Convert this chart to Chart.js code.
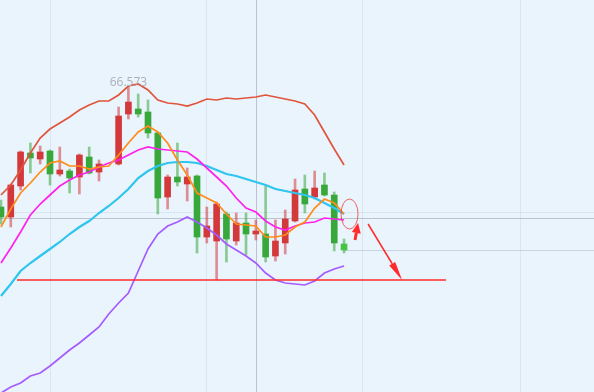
<!DOCTYPE html>
<html>
<head>
<meta charset="utf-8">
<script src="https://cdn.jsdelivr.net/npm/chart.js@4.4.1/dist/chart.umd.min.js"></script>
<style>
  html, body { margin: 0; padding: 0; background: #eaf4fd; }
  #wrap { width: 594px; height: 392px; }
</style>
</head>
<body>
<div id="wrap"><canvas id="klineChart" width="594" height="392"></canvas></div>
<script>
// daily candles, null = no bar for that slot
var opens  = [64.173, 63.973, 64.593, 65.253, 65.133, 65.293, 64.833, 64.893, 64.773, 65.173, 64.873, null,
              65.033, 66.033, 66.133, 66.073, 65.653, 64.373, 64.773, 64.633, 64.793, 63.573, 63.493, 64.033,
              63.493, 63.853, 63.633, 63.633, 63.193, 63.453, 63.893, 64.533, 64.373, 64.613, 64.413, 63.433];
var highs  = [64.313, 64.633, 65.293, 65.453, 65.393, 65.313, 65.373, 64.933, 65.233, 65.373, 65.113, null,
              66.173, 66.573, 66.433, 66.313, 65.673, 64.813, 65.453, 64.953, 64.813, 64.173, 64.273, 64.073,
              64.053, 64.053, 63.913, 64.593, 63.913, 64.113, 64.733, 64.813, 64.893, 64.853, 64.473, 63.533];
var lows   = [63.833, 63.773, 64.513, 64.853, 65.033, 64.613, 64.793, 64.453, 64.433, 64.833, 64.693, null,
              65.013, 65.933, 65.973, 65.553, 64.033, 64.133, 64.593, 64.293, 63.253, 63.453, 62.713, 63.073,
              63.413, 63.213, 63.513, 63.073, 63.093, 63.233, 63.873, 64.053, 64.333, 64.393, 63.293, 63.253];
var closes = [63.973, 64.613, 65.273, 65.153, 65.273, 64.833, 64.913, 64.753, 65.213, 64.853, 65.033, null,
              65.993, 66.273, 66.033, 65.653, 64.353, 64.773, 64.673, 64.773, 63.573, 63.793, 64.233, 63.533,
              63.853, 63.633, 63.693, 63.173, 63.493, 63.933, 64.513, 64.233, 64.553, 64.413, 63.453, 63.313];

var bollUpper = [64.413, 64.613, 64.913, 65.253, 65.553, 65.733, 65.853, 65.973, 66.113, 66.213, 66.293, 66.293,
                 66.413, 66.593, 66.633, 66.513, 66.313, 66.253, 66.233, 66.193, 66.253, 66.333, 66.313, 66.353,
                 66.333, 66.353, 66.373, 66.413, 66.373, 66.333, 66.293, 66.233, 66.013, 65.673, 65.333, 65.013];
var ma5   = [63.773, 64.133, 64.453, 64.653, 64.873, 65.053, 65.093, 64.993, 64.993, 64.933, 64.973, 64.993,
             65.213, 65.453, 65.673, 65.793, 65.673, 65.453, 65.113, 64.813, 64.453, 64.353, 64.253, 64.033,
             63.833, 63.813, 63.793, 63.573, 63.573, 63.613, 63.773, 63.873, 64.153, 64.333, 64.253, 64.033];
var ma10  = [63.053, 63.353, 63.673, 64.013, 64.233, 64.413, 64.593, 64.713, 64.813, 64.873, 64.973, 65.053,
             65.113, 65.213, 65.313, 65.373, 65.333, 65.313, 65.293, 65.273, 65.133, 64.953, 64.773, 64.593,
             64.353, 64.153, 64.073, 63.893, 63.773, 63.713, 63.793, 63.853, 63.873, 63.953, 63.933, 63.913];
var ma20  = [62.393, 62.633, 62.893, 63.053, 63.193, 63.333, 63.473, 63.633, 63.773, 63.893, 64.053, 64.193,
             64.353, 64.533, 64.753, 64.893, 64.993, 65.053, 65.073, 65.073, 65.053, 64.993, 64.913, 64.833,
             64.793, 64.733, 64.673, 64.613, 64.533, 64.493, 64.453, 64.413, 64.353, 64.253, 64.153, 64.033];
var bollLower = [60.453, 60.573, 60.653, 60.793, 60.853, 60.993, 61.153, 61.313, 61.453, 61.613, 61.773, 62.033,
                 62.253, 62.453, 62.893, 63.333, 63.633, 63.793, 63.873, 63.973, 63.873, 63.753, 63.613, 63.433,
                 63.313, 63.193, 63.053, 62.853, 62.713, 62.653, 62.633, 62.613, 62.693, 62.853, 62.933, 62.993];

var highLabel = '66.573';
var highIndex = 13;

// hand drawn marks, in chart units (x = bar index, y = price)
var supportLine = { from: 1.63, to: 45.4, price: 62.713 };
var circleMark  = { x: 35.56, price: 64.033 };
var smallArrow  = [[36.12, 63.513], [36.43, 63.853]];
var bigArrow    = [[37.45, 63.833], [40.92, 62.713]];
var crossX = 26, crossPrice = 63.953;
var gridX = [5, 20.9, 36.8, 52.96];
var gridPrice = [64.073];

var RED = '#d3393b', GREEN = '#38a83a';
var RED_WICK = 'rgba(211,57,59,0.55)', GREEN_WICK = 'rgba(56,168,58,0.55)';

var idx = closes.map(function (_, i) { return i; });
var bars = idx.filter(function (i) { return opens[i] !== null; });

function pts(arr) {
    return idx.map(function (i) { return { x: i, y: arr[i] }; });
}
function up(i) { return closes[i] >= opens[i]; }

var guides = {
    id: 'guides',
    beforeDraw: function (chart) {
        var ctx = chart.ctx;
        ctx.save();
        ctx.fillStyle = '#eaf4fd';
        ctx.fillRect(0, 0, chart.width, chart.height);
        ctx.restore();
    },
    beforeDatasetsDraw: function (chart) {
        var ctx = chart.ctx, xs = chart.scales.x, ys = chart.scales.y, a = chart.chartArea;
        ctx.save();
        ctx.lineWidth = 1;
        ctx.strokeStyle = 'rgba(205,218,232,0.6)';
        gridX.forEach(function (v) {
            var px = Math.round(xs.getPixelForValue(v)) + 0.5;
            ctx.beginPath(); ctx.moveTo(px, a.top); ctx.lineTo(px, a.bottom); ctx.stroke();
        });
        gridPrice.forEach(function (v) {
            var py = Math.round(ys.getPixelForValue(v)) + 0.5;
            ctx.beginPath(); ctx.moveTo(a.left, py); ctx.lineTo(a.right, py); ctx.stroke();
        });
        // last price line
        var last = closes.length - 1;
        var ly = Math.round(ys.getPixelForValue(closes[last])) + 0.5;
        ctx.strokeStyle = 'rgba(190,205,220,0.8)';
        ctx.beginPath(); ctx.moveTo(xs.getPixelForValue(last), ly); ctx.lineTo(a.right, ly); ctx.stroke();
        // crosshair
        ctx.strokeStyle = 'rgba(165,174,185,0.7)';
        var cx = Math.round(xs.getPixelForValue(crossX)) + 0.5;
        var cy = Math.round(ys.getPixelForValue(crossPrice)) + 0.5;
        ctx.beginPath(); ctx.moveTo(cx, a.top); ctx.lineTo(cx, a.bottom); ctx.stroke();
        ctx.beginPath(); ctx.moveTo(a.left, cy); ctx.lineTo(a.right, cy); ctx.stroke();
        ctx.restore();
    },
    afterDatasetsDraw: function (chart) {
        var ctx = chart.ctx, xs = chart.scales.x, ys = chart.scales.y;
        ctx.save();
        // high label
        ctx.fillStyle = '#abb0b6';
        ctx.font = '12px "Open Sans", sans-serif';
        ctx.textAlign = 'center';
        ctx.textBaseline = 'bottom';
        ctx.fillText(highLabel, xs.getPixelForValue(highIndex), ys.getPixelForValue(highs[highIndex]) + 2);

        // support line
        ctx.strokeStyle = '#ff2b2b';
        ctx.lineWidth = 1.3;
        var sy = ys.getPixelForValue(supportLine.price);
        ctx.beginPath();
        ctx.moveTo(xs.getPixelForValue(supportLine.from), sy);
        ctx.lineTo(xs.getPixelForValue(supportLine.to), sy);
        ctx.stroke();

        // circle round the last bars
        ctx.strokeStyle = 'rgba(240,70,70,0.85)';
        ctx.lineWidth = 1;
        ctx.beginPath();
        ctx.ellipse(xs.getPixelForValue(circleMark.x), ys.getPixelForValue(circleMark.price), 8.5, 15, 0, 0, Math.PI * 2);
        ctx.stroke();

        drawArrow(ctx, xs, ys, smallArrow, 10, 4.5, 3);
        drawArrow(ctx, xs, ys, bigArrow, 19, 3.5, 1.5);
        ctx.restore();
    }
};

function drawArrow(ctx, xs, ys, seg, headLen, headHalf, width) {
    var x0 = xs.getPixelForValue(seg[0][0]), y0 = ys.getPixelForValue(seg[0][1]);
    var x1 = xs.getPixelForValue(seg[1][0]), y1 = ys.getPixelForValue(seg[1][1]);
    var len = Math.hypot(x1 - x0, y1 - y0);
    var ux = (x1 - x0) / len, uy = (y1 - y0) / len;
    var bx = x1 - ux * headLen, by = y1 - uy * headLen;
    ctx.strokeStyle = '#ff2b2b';
    ctx.fillStyle = '#ff2b2b';
    ctx.lineWidth = width;
    ctx.beginPath(); ctx.moveTo(x0, y0); ctx.lineTo(bx, by); ctx.stroke();
    ctx.beginPath();
    ctx.moveTo(x1, y1);
    ctx.lineTo(bx - uy * headHalf, by + ux * headHalf);
    ctx.lineTo(bx + uy * headHalf, by - ux * headHalf);
    ctx.closePath();
    ctx.fill();
}

function lineSet(label, arr, color, width) {
    return {
        type: 'line', label: label, data: pts(arr),
        borderColor: color, borderWidth: width, pointRadius: 0,
        tension: 0, fill: false, order: 0
    };
}

var ctx = document.getElementById('klineChart').getContext('2d');
var klineChart = new Chart(ctx, {
    type: 'bar',
    data: {
        datasets: [
            {
                label: 'wick',
                data: bars.map(function (i) { return { x: i, y: [lows[i], highs[i]] }; }),
                backgroundColor: bars.map(function (i) { return up(i) ? RED_WICK : GREEN_WICK; }),
                barThickness: 2, grouped: false, order: 2
            },
            {
                label: 'body',
                data: bars.map(function (i) { return { x: i, y: [opens[i], closes[i]] }; }),
                backgroundColor: bars.map(function (i) {
                    if (i === closes.length - 1) return '#45c443';
                    return up(i) ? RED : GREEN;
                }),
                barThickness: 6, grouped: false, order: 1
            },
            lineSet('BOLL UP', bollUpper, '#e0553c', 1.7),
            lineSet('MA5', ma5, '#ff8c1a', 1.7),
            lineSet('MA10', ma10, '#ff22ee', 1.7),
            lineSet('MA20', ma20, '#2ec5ee', 2.2),
            lineSet('BOLL DN', bollLower, '#a55cff', 1.7)
        ]
    },
    options: {
        responsive: false,
        animation: false,
        layout: { padding: 0 },
        plugins: { legend: { display: false }, tooltip: { enabled: false } },
        events: [],
        scales: {
            x: { type: 'linear', display: false, offset: false, min: -0.1, max: 60.5 },
            y: { type: 'linear', display: false, beginAtZero: false, min: 60.473, max: 68.313 }
        }
    },
    plugins: [guides]
});
</script>
</body>
</html>
